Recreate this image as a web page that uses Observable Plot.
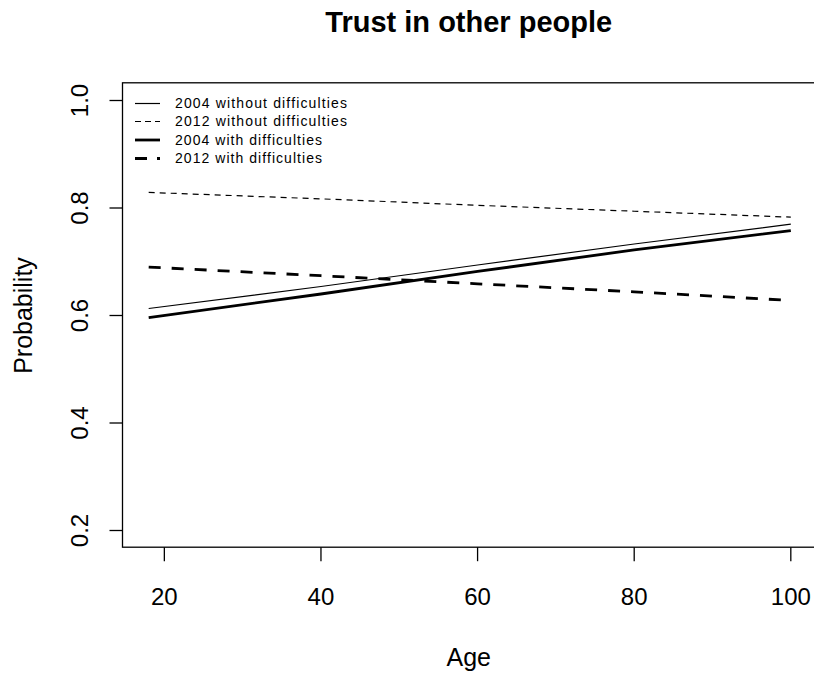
<!DOCTYPE html>
<html>
<head>
<meta charset="utf-8">
<script src="https://cdn.jsdelivr.net/npm/d3@7"></script>
<script src="https://cdn.jsdelivr.net/npm/@observablehq/plot@0.6"></script>
<style>
  html, body { margin: 0; padding: 0; background: #fff; }
  #chart { width: 814px; height: 673px; overflow: hidden; }
</style>
</head>
<body>
<div id="chart"></div>
<script>
// ---- data ----
const ages = [18, 40, 60, 80, 100];
const p2004Without = [0.613, 0.654, 0.694, 0.733, 0.770];
const p2012Without = [0.829, 0.817, 0.805, 0.794, 0.783];
const p2004With    = [0.596, 0.640, 0.682, 0.722, 0.758];
const p2012With    = [0.690, 0.674, 0.659, 0.644, 0.628];
const seriesNames  = ["2004 without difficulties", "2012 without difficulties",
                      "2004 with difficulties", "2012 with difficulties"];
const xTicks = [20, 40, 60, 80, 100];
const yTicks = [0.2, 0.4, 0.6, 0.8, 1.0];
const yTickLabels = ["0.2", "0.4", "0.6", "0.8", "1.0"];
const xLim = [14.72, 103.28];
const yLim = [0.168, 1.032];
const titleText = "Trust in other people";
const xLabel = "Age";
const yLabel = "Probability";

// ---- styles ----
const seriesWidths = [1.2, 1.2, 2.8, 2.8];
const seriesDash = [null, "6,5", null, "12,11"];
const legendDash = [null, "6,4", null, "12,10"];
const font = "'Liberation Sans', Arial, Helvetica, sans-serif";

const allValues = [p2004Without, p2012Without, p2004With, p2012With];
const rows = [];
allValues.forEach((vals, i) => vals.forEach((v, j) => rows.push({series: seriesNames[i], idx: i, age: ages[j], p: v})));

const lineMarks = seriesNames.map((name, i) =>
  Plot.line(rows.filter(r => r.idx === i), {
    x: "age", y: "p", stroke: "black", strokeWidth: seriesWidths[i],
    strokeDasharray: seriesDash[i] || undefined, strokeLinecap: "butt"
  })
);

const chart = Plot.plot({
  width: 814,
  height: 673,
  marginLeft: 122.5,
  marginRight: 0,
  marginTop: 82.8,
  marginBottom: 125.8,
  style: {fontFamily: font, background: "white", color: "black"},
  x: {domain: xLim, range: [122.5, 816]},
  y: {domain: yLim, range: [547.2, 82.8]},
  marks: [
    Plot.rect([0], {x1: () => xLim[0], x2: () => xLim[1], y1: () => yLim[0], y2: () => yLim[1],
      fill: "none", stroke: "black", strokeWidth: 1.3}),
    Plot.axisX(xTicks, {anchor: "bottom", tickSize: 14, tickPadding: 26, fontSize: 24,
      strokeWidth: 1.3, label: null, tickFormat: d => String(d)}),
    // y ticks (marks only)
    Plot.axisY(yTicks, {anchor: "left", tickSize: 13, fontSize: 24,
      strokeWidth: 1.3, label: null, tickFormat: () => ""}),
    // y tick labels, rotated like R's default las = 0
    Plot.axisY(yTicks, {anchor: "left", tickSize: 0, tickPadding: 42.5, fontSize: 24,
      rotate: -90, textAnchor: "middle", label: null,
      tickFormat: d => yTickLabels[yTicks.indexOf(d)]}),
    ...lineMarks,
    Plot.text([titleText], {frameAnchor: "top", dy: -60.3, fontSize: 29, fontWeight: "bold",
      lineAnchor: "middle", fill: "black"}),
    Plot.text([xLabel], {frameAnchor: "bottom", dy: 110, fontSize: 25, lineAnchor: "middle", fill: "black"}),
    Plot.text([yLabel], {frameAnchor: "left", dx: -99.5, rotate: -90, fontSize: 25,
      lineAnchor: "middle", textAnchor: "middle", fill: "black"})
  ]
});
document.getElementById("chart").appendChild(chart);

// ---- legend (no box, top-left inside plot region) ----
const svg = d3.select(chart);
const lg = svg.append("g").attr("class", "legend")
  .attr("font-family", font).attr("text-anchor", "start");
const legendY = [103.5, 121.5, 140, 158.5];
const legendTextWidth = [172, 172, 147, 147];
seriesNames.forEach((name, i) => {
  lg.append("line")
    .attr("x1", 135).attr("x2", 160)
    .attr("y1", legendY[i]).attr("y2", legendY[i])
    .attr("stroke", "black").attr("stroke-width", seriesWidths[i])
    .attr("stroke-dasharray", legendDash[i]);
  lg.append("text")
    .attr("x", 175).attr("y", legendY[i]).attr("dy", "0.35em")
    .attr("font-size", 14).attr("fill", "black")
    .attr("textLength", legendTextWidth[i]).attr("lengthAdjust", "spacing")
    .text(name);
});
</script>
</body>
</html>
